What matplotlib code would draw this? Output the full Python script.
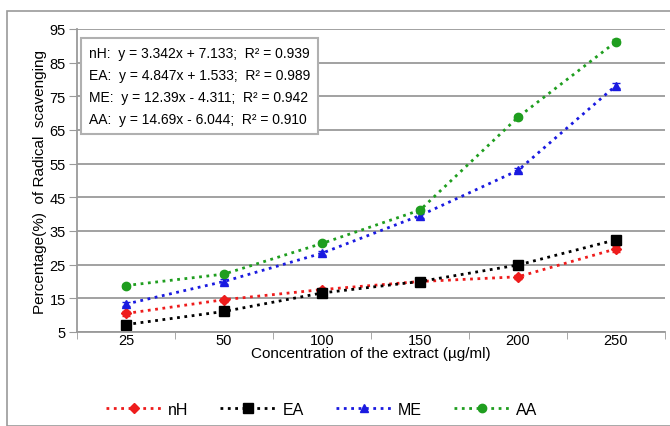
import matplotlib
matplotlib.use('Agg')
import matplotlib.pyplot as plt
from matplotlib.patches import Rectangle
from matplotlib.lines import Line2D
import numpy as np

# Data
concentrations = ['25', '50', '100', '150', '200', '250']
nh = [10.5, 14.6, 17.6, 20.0, 21.4, 29.7]
ea = [7.2, 11.1, 16.6, 20.0, 24.9, 32.4]
me = [13.3, 20.0, 28.4, 39.6, 53.0, 78.2]
aa = [18.8, 22.2, 31.3, 41.2, 68.8, 91.2]
err = [0.6, 0.6, 0.6, 0.6, 0.6, 0.8]

series = [('nH', nh, '#ee1c1c', 'D', 5),
          ('EA', ea, 'black', 's', 7),
          ('ME', me, '#1a1ae0', '^', 6),
          ('AA', aa, '#1f9e1f', 'o', 6)]

fit_text = ['nH:  y = 3.342x + 7.133;  R\u00b2 = 0.939',
            'EA:  y = 4.847x + 1.533;  R\u00b2 = 0.989',
            'ME:  y = 12.39x - 4.311;  R\u00b2 = 0.942',
            'AA:  y = 14.69x - 6.044;  R\u00b2 = 0.910']

plt.rcParams['font.family'] = ['Liberation Sans', 'DejaVu Sans']

fig = plt.figure(figsize=(6.7, 4.27), dpi=100)
ax = fig.add_axes([77 / 670, 1 - 333 / 427, 588 / 670, 303 / 427])

# outer frame of the chart
fig.patches.append(Rectangle((7 / 670, 0), 1, 1 - 12 / 427, transform=fig.transFigure,
                             fill=False, edgecolor='#9a9a9a', linewidth=1.2))

x = np.arange(len(concentrations))
handles = []
for name, vals, col, mk, ms in series:
    ax.errorbar(x, vals, yerr=err, color=col, linestyle=':', linewidth=2,
                marker=mk, markersize=ms, capsize=3, elinewidth=1)
    handles.append(Line2D([], [], color=col, linestyle=':', linewidth=2,
                          marker=mk, markersize=ms, label=name))

ax.set_xlim(-0.5, len(concentrations) - 0.5)
ax.set_ylim(5, 95)
ax.set_yticks(np.arange(5, 96, 10))
ax.yaxis.grid(True, color='#9a9a9a', linewidth=1.3)
ax.set_axisbelow(True)

ax.set_xticks(x)
ax.set_xticklabels(concentrations)
ax.set_xticks(np.arange(-0.5, len(concentrations)), minor=True)
ax.tick_params(axis='x', which='major', length=0, pad=1, labelsize=10.5)
ax.tick_params(axis='x', which='minor', length=5, color='#9a9a9a')
ax.tick_params(axis='y', length=6, color='#9a9a9a', labelsize=10.5, pad=2)

for s in ['top', 'right']:
    ax.spines[s].set_visible(False)
for s in ['left', 'bottom']:
    ax.spines[s].set_color('#9a9a9a')
    ax.spines[s].set_linewidth(1.3)

ax.set_xlabel('Concentration of the extract (\u00b5g/ml)', fontsize=11, labelpad=-1)
ax.set_ylabel('Percentage(%)  of Radical  scavenging', fontsize=11, labelpad=2)

ax.text(0.02, 0.945, '\n'.join(fit_text), transform=ax.transAxes, fontsize=10,
        va='top', ha='left', linespacing=1.75,
        bbox=dict(boxstyle='square,pad=0.55', facecolor='white', edgecolor='#b0b0b0', linewidth=1.5))

fig.legend(handles=handles, loc='lower center', bbox_to_anchor=(0.48, -0.012), ncol=4,
           frameon=False, fontsize=11.5, handlelength=3.5, columnspacing=2.0, handletextpad=0.4)

fig.savefig('out.png', dpi=100)
